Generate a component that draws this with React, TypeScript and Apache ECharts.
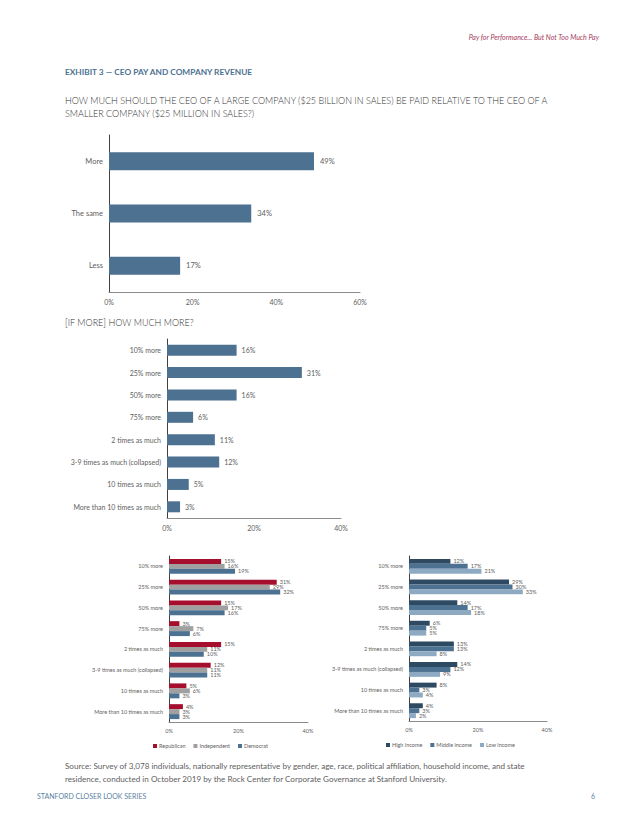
import React, { useEffect, useRef } from "react";
import * as echarts from "echarts";

const topCats = ["More", "The same", "Less"];
const topVals = [49, 34, 17];

const moreCats = [
  "10% more",
  "25% more",
  "50% more",
  "75% more",
  "2 times as much",
  "3-9 times as much (collapsed)",
  "10 times as much",
  "More than 10 times as much",
];
const moreVals = [16, 31, 16, 6, 11, 12, 5, 3];

const partyNames = ["Republican", "Independent", "Democrat"];
const republican = [15, 31, 15, 3, 15, 12, 5, 4];
const independent = [16, 29, 17, 7, 11, 11, 6, 3];
const democrat = [19, 32, 16, 6, 10, 11, 3, 3];

const incomeNames = ["High income", "Middle income", "Low income"];
const highIncome = [12, 29, 14, 6, 13, 14, 8, 4];
const middleIncome = [17, 30, 17, 5, 13, 12, 3, 3];
const lowIncome = [21, 33, 18, 5, 8, 9, 4, 2];

const FONT = "Lato, 'Open Sans', sans-serif";
const GRAY = "#606060";
const BLUE = "#4d7190";

export default function App() {
  const ref = useRef<HTMLDivElement>(null);
  useEffect(() => {
    document.body.style.margin = "0";
    const chart = echarts.init(ref.current!, null, { renderer: "svg" });

    const xAxis = (gi: number, max: number, fs: number) => ({
      type: "value",
      gridIndex: gi,
      min: 0,
      max,
      interval: 20,
      axisLine: { show: true, lineStyle: { color: "#8c8c8c", width: 1 } },
      axisTick: { show: false },
      splitLine: { show: false },
      axisLabel: { formatter: "{value}%", color: GRAY, fontSize: fs, fontFamily: FONT, margin: 6 },
    });
    const yAxis = (gi: number, data: string[], fs: number) => ({
      type: "category",
      gridIndex: gi,
      data,
      inverse: true,
      axisLine: { show: true, lineStyle: { color: "#404040", width: 1 } },
      axisTick: { show: false },
      axisLabel: { color: GRAY, fontSize: fs, fontFamily: FONT, margin: 6 },
    });
    const label = (fs: number, dist: number) => ({
      show: true,
      position: "right",
      distance: dist,
      formatter: "{c}%",
      color: GRAY,
      fontSize: fs,
      fontFamily: FONT,
    });
    const smallBar = (name: string, data: number[], gi: number, color: string) => ({
      type: "bar",
      name,
      data,
      xAxisIndex: gi,
      yAxisIndex: gi,
      barGap: "0%",
      barCategoryGap: "28%",
      itemStyle: { color },
      label: label(5.5, 3),
    });

    const txt = (text: string, x: number, y: number, font: string, fill: string, align = "left") => ({
      type: "text",
      x,
      y,
      style: { text, font, fill, align, verticalAlign: "middle", textAlign: align, textVerticalAlign: "middle" },
    });

    chart.setOption({
      animation: false,
      backgroundColor: "#ffffff",
      grid: [
        { left: 109, top: 135, width: 251, height: 157 },
        { left: 167, top: 339, width: 174, height: 179 },
        { left: 169, top: 556, width: 139, height: 166 },
        { left: 409, top: 556, width: 138, height: 165 },
      ],
      xAxis: [xAxis(0, 60, 7), xAxis(1, 40, 7), xAxis(2, 40, 5.5), xAxis(3, 40, 5.5)],
      yAxis: [yAxis(0, topCats, 7.5), yAxis(1, moreCats, 7), yAxis(2, moreCats, 5.5), yAxis(3, moreCats, 5.5)],
      legend: [
        {
          data: partyNames,
          left: 148,
          top: 738,
          icon: "rect",
          itemWidth: 4,
          itemHeight: 4,
          itemGap: 8,
          textStyle: { color: GRAY, fontSize: 5.5, fontFamily: FONT, padding: [0, 0, 0, -3] },
        },
        {
          data: incomeNames,
          left: 381,
          top: 737,
          icon: "rect",
          itemWidth: 4,
          itemHeight: 4,
          itemGap: 8,
          textStyle: { color: GRAY, fontSize: 5.5, fontFamily: FONT, padding: [0, 0, 0, -3] },
        },
      ],
      series: [
        {
          type: "bar",
          data: topVals,
          xAxisIndex: 0,
          yAxisIndex: 0,
          barWidth: 18,
          itemStyle: { color: BLUE },
          label: label(7.5, 6),
        },
        {
          type: "bar",
          data: moreVals,
          xAxisIndex: 1,
          yAxisIndex: 1,
          barWidth: 11,
          itemStyle: { color: BLUE },
          label: label(7, 5),
        },
        smallBar(partyNames[0], republican, 2, "#a50f2d"),
        smallBar(partyNames[1], independent, 2, "#a0a0a0"),
        smallBar(partyNames[2], democrat, 2, BLUE),
        smallBar(incomeNames[0], highIncome, 3, "#2e4a62"),
        smallBar(incomeNames[1], middleIncome, 3, BLUE),
        smallBar(incomeNames[2], lowIncome, 3, "#8eaac3"),
      ],
      graphic: [
        txt("Pay for Performance... But Not Too Much Pay", 599, 37, `italic 7px ${FONT}`, "#a63a5c", "right"),
        txt("EXHIBIT 3 — CEO PAY AND COMPANY REVENUE", 65, 72, `bold 8.3px ${FONT}`, BLUE),
        txt(
          "HOW MUCH SHOULD THE CEO OF A LARGE COMPANY ($25 BILLION IN SALES) BE PAID RELATIVE TO THE CEO OF A",
          65,
          100,
          `300 9px ${FONT}`,
          "#333333"
        ),
        txt("SMALLER COMPANY ($25 MILLION IN SALES?)", 65, 113, `300 9px ${FONT}`, "#333333"),
        txt("[IF MORE] HOW MUCH MORE?", 65, 322, `300 9px ${FONT}`, "#333333"),
        txt(
          "Source: Survey of 3,078 individuals, nationally representative by gender, age, race, political affiliation, household income, and state",
          65,
          766,
          `8.1px ${FONT}`,
          GRAY
        ),
        txt(
          "residence, conducted in October 2019 by the Rock Center for Corporate Governance at Stanford University.",
          65,
          779,
          `8.1px ${FONT}`,
          GRAY
        ),
        txt("STANFORD CLOSER LOOK SERIES", 37, 796, `7px ${FONT}`, "#5b7fa3"),
        txt("6", 591, 796, `7px ${FONT}`, "#5b7fa3"),
      ],
    });
    return () => chart.dispose();
  }, []);
  return <div ref={ref} style={{ width: 638, height: 826 }} />;
}
